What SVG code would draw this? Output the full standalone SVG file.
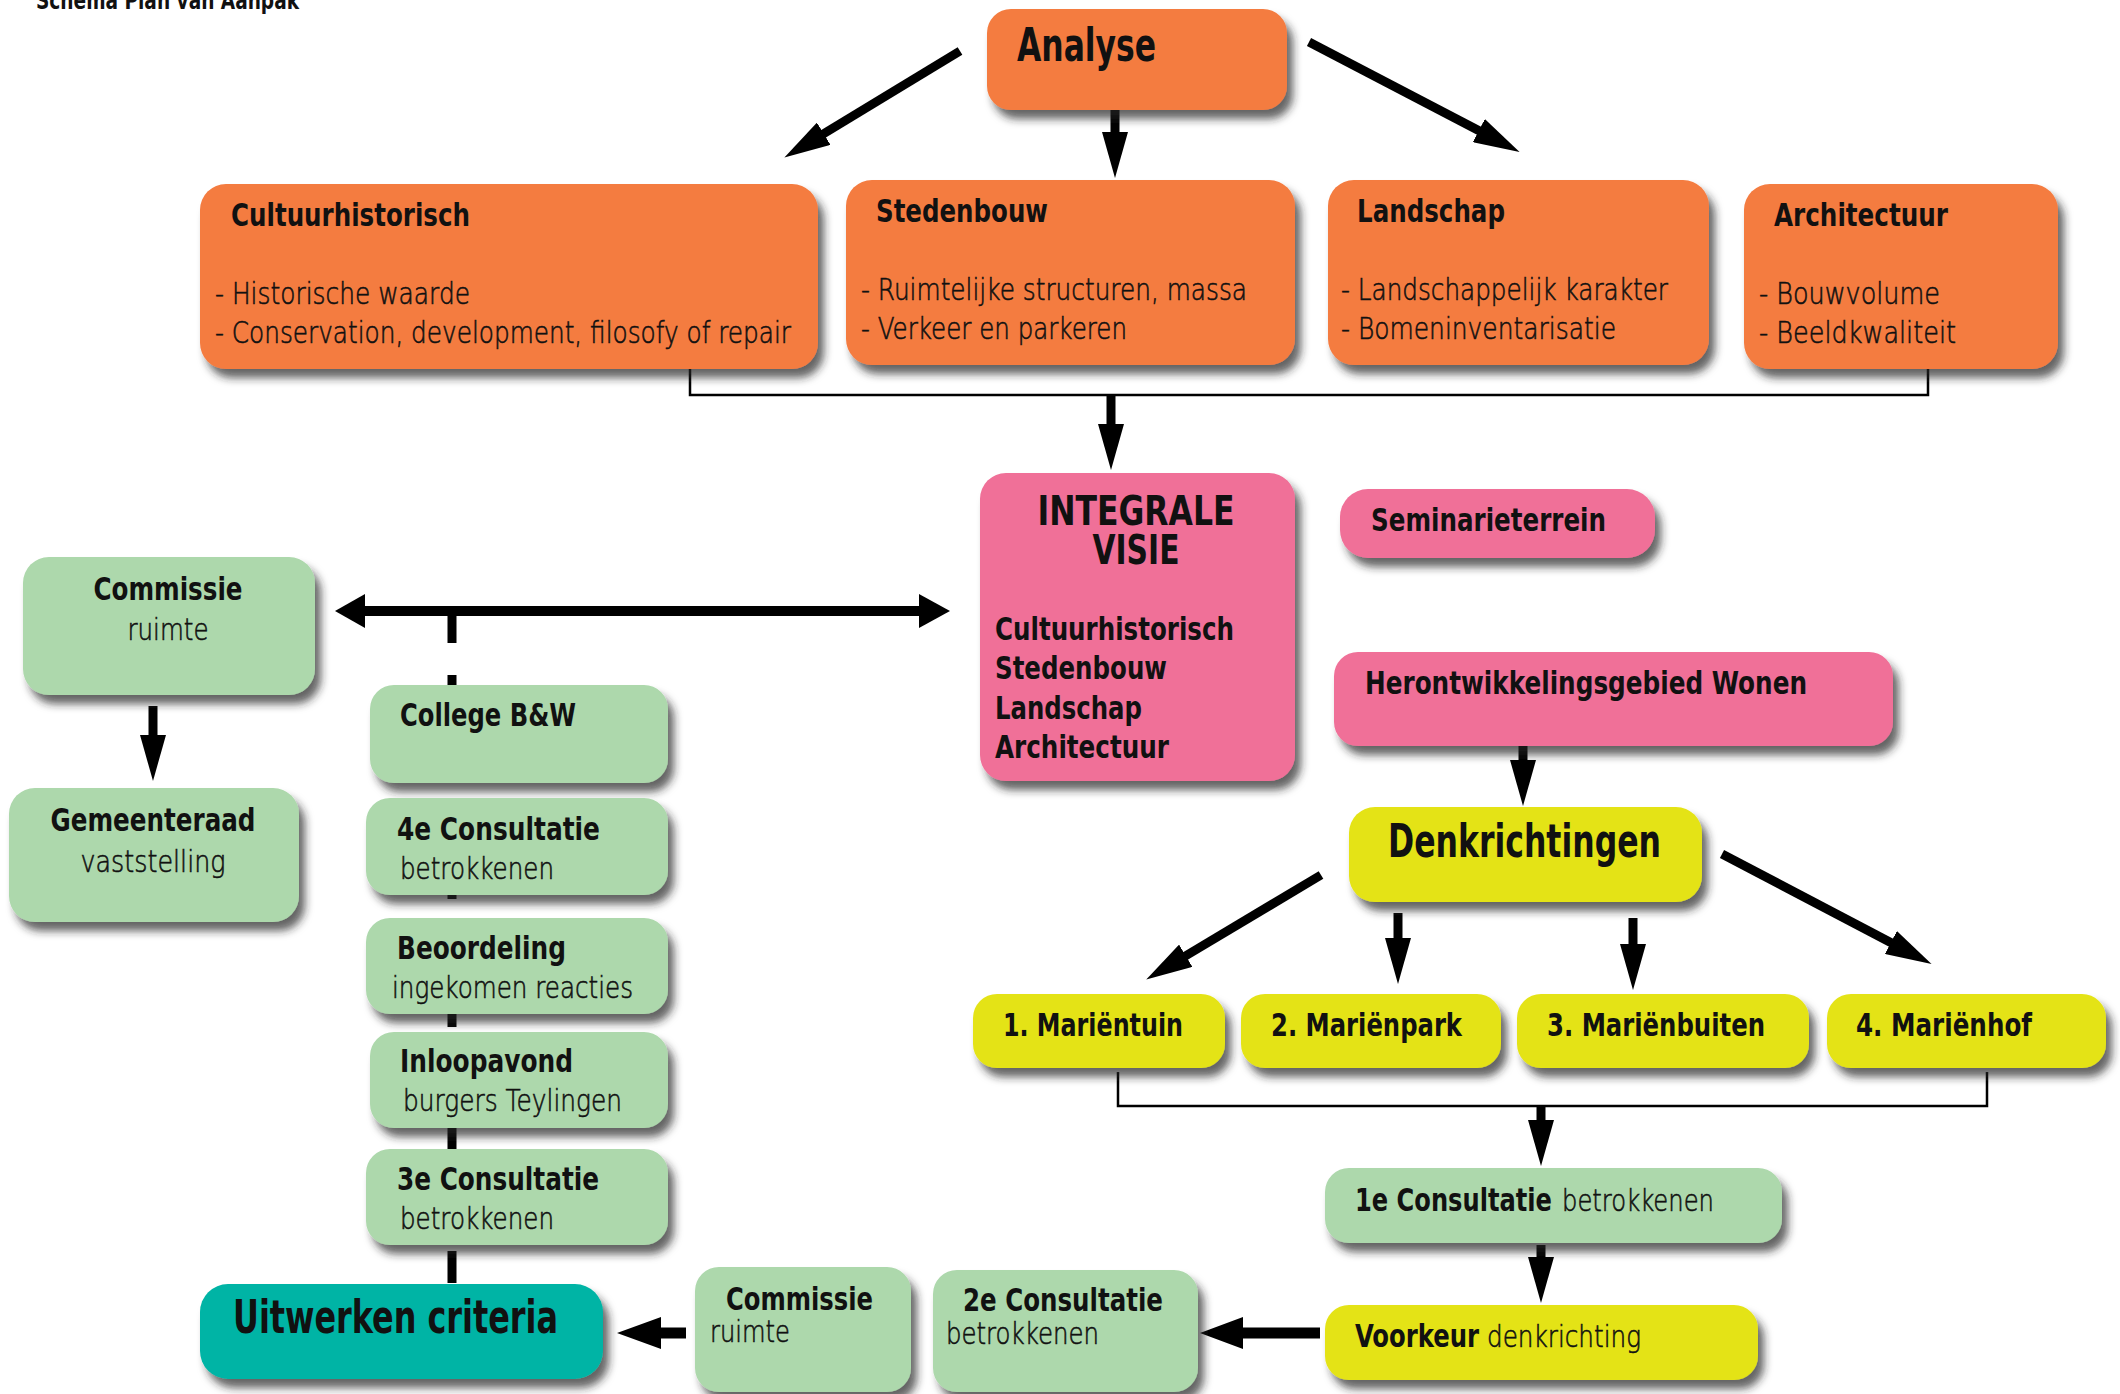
<svg xmlns="http://www.w3.org/2000/svg" width="2120" height="1394" viewBox="0 0 2120 1394">
<defs>
<filter id="sh" x="-10%" y="-10%" width="130%" height="140%">
<feDropShadow dx="6" dy="9" stdDeviation="4" flood-color="#222" flood-opacity="0.7"/>
</filter>
<marker id="ah" markerUnits="userSpaceOnUse" markerWidth="46" markerHeight="26" refX="16" refY="13" orient="auto">
<path d="M0,0 L46,13 L0,26 Z" fill="#000"/>
</marker>
<style>
.o{fill:#F47C40;filter:url(#sh)}
.p{fill:#F07098;filter:url(#sh)}
.g{fill:#ADD8AC;filter:url(#sh)}
.y{fill:#E4E316;filter:url(#sh)}
.t{fill:#00B4A5;filter:url(#sh)}
text{fill:#111}
.b{font-family:"DejaVu Sans",sans-serif;font-weight:bold;font-stretch:condensed;font-size:32px}
.l{font-family:"DejaVu Sans",sans-serif;font-weight:200;font-size:30px;stroke:#111;stroke-width:0.6}
.big{font-size:46px}
.c{text-anchor:middle}
.thin{fill:none;stroke:#000;stroke-width:2.5}
.arr{fill:none;stroke:#000;stroke-width:9;marker-end:url(#ah)}
</style>
</defs>
<rect width="2120" height="1394" fill="#fff"/>
<text class="b" x="36" y="9" textLength="263" lengthAdjust="spacingAndGlyphs" style="font-size:24px">Schema Plan van Aanpak</text>

<g id="connectors">
<line class="arr" x1="960" y1="51" x2="810" y2="142"/>
<line class="arr" x1="1115" y1="110" x2="1115" y2="148"/>
<line class="arr" x1="1309" y1="42" x2="1493" y2="138"/>
<path class="thin" d="M690,362 V395 H1928 V362"/>
<line class="arr" x1="1111" y1="395" x2="1111" y2="440"/>
<path d="M452,611 V1284" fill="none" stroke="#000" stroke-width="9" stroke-dasharray="32 32"/>
<path d="M362,611 H922" fill="none" stroke="#000" stroke-width="10"/>
<polygon points="335,611 365,594 365,628" fill="#000"/>
<polygon points="950,611 919,594 919,628" fill="#000"/>
<line class="arr" x1="153" y1="706" x2="153" y2="751"/>
<line class="arr" x1="1523" y1="746" x2="1523" y2="776"/>
<line class="arr" x1="1321" y1="875" x2="1172" y2="964"/>
<line class="arr" x1="1398" y1="913" x2="1398" y2="954"/>
<line class="arr" x1="1633" y1="918" x2="1633" y2="960"/>
<line class="arr" x1="1722" y1="854" x2="1905" y2="950"/>
<path class="thin" d="M1118,1072 V1106 H1987 V1072"/>
<line class="arr" x1="1541" y1="1106" x2="1541" y2="1136"/>
<line class="arr" x1="1541" y1="1245" x2="1541" y2="1273"/>
<path d="M1320,1333 H1240" fill="none" stroke="#000" stroke-width="11"/>
<polygon points="1200,1333 1243,1317 1243,1349" fill="#000"/>
<path d="M686,1333 H655" fill="none" stroke="#000" stroke-width="11"/>
<polygon points="617,1333 661,1317 661,1349" fill="#000"/>
</g>

<g id="analyse"><rect class="o" x="987" y="9" width="300" height="101" rx="24"/>
<text class="b big" x="1017" y="61" textLength="139" lengthAdjust="spacingAndGlyphs">Analyse</text></g>

<g id="cultuurhistorisch"><rect class="o" x="200" y="184" width="618" height="185" rx="26"/>
<text class="b" x="231" y="226" textLength="239" lengthAdjust="spacingAndGlyphs">Cultuurhistorisch</text>
<text class="l" x="215" y="304" textLength="255" lengthAdjust="spacingAndGlyphs">- Historische waarde</text>
<text class="l" x="215" y="343" textLength="576" lengthAdjust="spacingAndGlyphs">- Conservation, development, filosofy of repair</text></g>

<g id="stedenbouw"><rect class="o" x="846" y="180" width="449" height="185" rx="26"/>
<text class="b" x="876" y="222" textLength="172" lengthAdjust="spacingAndGlyphs">Stedenbouw</text>
<text class="l" x="861" y="300" textLength="386" lengthAdjust="spacingAndGlyphs">- Ruimtelijke structuren, massa</text>
<text class="l" x="861" y="339" textLength="266" lengthAdjust="spacingAndGlyphs">- Verkeer en parkeren</text></g>

<g id="landschap"><rect class="o" x="1328" y="180" width="381" height="185" rx="26"/>
<text class="b" x="1357" y="222" textLength="148" lengthAdjust="spacingAndGlyphs">Landschap</text>
<text class="l" x="1341" y="300" textLength="327" lengthAdjust="spacingAndGlyphs">- Landschappelijk karakter</text>
<text class="l" x="1341" y="339" textLength="275" lengthAdjust="spacingAndGlyphs">- Bomeninventarisatie</text></g>

<g id="architectuur"><rect class="o" x="1744" y="184" width="314" height="185" rx="26"/>
<text class="b" x="1774" y="226" textLength="174" lengthAdjust="spacingAndGlyphs">Architectuur</text>
<text class="l" x="1759" y="304" textLength="181" lengthAdjust="spacingAndGlyphs">- Bouwvolume</text>
<text class="l" x="1759" y="343" textLength="197" lengthAdjust="spacingAndGlyphs">- Beeldkwaliteit</text></g>

<g id="integrale-visie"><rect class="p" x="980" y="473" width="315" height="308" rx="26"/>
<text class="b c" x="1136" y="525" style="font-size:40px" textLength="197" lengthAdjust="spacingAndGlyphs">INTEGRALE</text>
<text class="b c" x="1136" y="564" style="font-size:40px" textLength="87" lengthAdjust="spacingAndGlyphs">VISIE</text>
<text class="b" x="995" y="640" textLength="239" lengthAdjust="spacingAndGlyphs">Cultuurhistorisch</text>
<text class="b" x="995" y="679" textLength="172" lengthAdjust="spacingAndGlyphs">Stedenbouw</text>
<text class="b" x="995" y="719" textLength="147" lengthAdjust="spacingAndGlyphs">Landschap</text>
<text class="b" x="995" y="758" textLength="174" lengthAdjust="spacingAndGlyphs">Architectuur</text></g>

<g id="seminarieterrein"><rect class="p" x="1340" y="489" width="315" height="69" rx="28"/>
<text class="b" x="1371" y="531" textLength="235" lengthAdjust="spacingAndGlyphs">Seminarieterrein</text></g>

<g id="herontwikkelingsgebied"><rect class="p" x="1334" y="652" width="559" height="94" rx="24"/>
<text class="b" x="1365" y="694" textLength="442" lengthAdjust="spacingAndGlyphs">Herontwikkelingsgebied Wonen</text></g>

<g id="denkrichtingen"><rect class="y" x="1349" y="807" width="353" height="95" rx="26"/>
<text class="b big" x="1388" y="857" textLength="273" lengthAdjust="spacingAndGlyphs">Denkrichtingen</text></g>

<g id="marientuin"><rect class="y" x="973" y="994" width="252" height="74" rx="24"/>
<text class="b" x="1003" y="1036" textLength="180" lengthAdjust="spacingAndGlyphs">1. Mariëntuin</text></g>
<g id="marienpark"><rect class="y" x="1241" y="994" width="260" height="74" rx="24"/>
<text class="b" x="1271" y="1036" textLength="191" lengthAdjust="spacingAndGlyphs">2. Mariënpark</text></g>
<g id="marienbuiten"><rect class="y" x="1517" y="994" width="292" height="74" rx="24"/>
<text class="b" x="1547" y="1036" textLength="218" lengthAdjust="spacingAndGlyphs">3. Mariënbuiten</text></g>
<g id="marienhof"><rect class="y" x="1827" y="994" width="279" height="74" rx="24"/>
<text class="b" x="1856" y="1036" textLength="176" lengthAdjust="spacingAndGlyphs">4. Mariënhof</text></g>

<g id="consultatie1"><rect class="g" x="1325" y="1168" width="457" height="75" rx="24"/>
<text class="b" x="1355" y="1211" textLength="197" lengthAdjust="spacingAndGlyphs">1e Consultatie</text>
<text class="l" x="1562" y="1211" textLength="152" lengthAdjust="spacingAndGlyphs">betrokkenen</text></g>

<g id="voorkeur"><rect class="y" x="1325" y="1305" width="433" height="75" rx="24"/>
<text class="b" x="1355" y="1347" textLength="124" lengthAdjust="spacingAndGlyphs">Voorkeur</text>
<text class="l" x="1487" y="1347" textLength="154" lengthAdjust="spacingAndGlyphs">denkrichting</text></g>

<g id="consultatie2"><rect class="g" x="933" y="1270" width="265" height="122" rx="24"/>
<text class="b" x="963" y="1311" textLength="200" lengthAdjust="spacingAndGlyphs">2e Consultatie</text>
<text class="l" x="946" y="1344" textLength="153" lengthAdjust="spacingAndGlyphs">betrokkenen</text></g>

<g id="commissie-onder"><rect class="g" x="695" y="1267" width="216" height="125" rx="24"/>
<text class="b" x="726" y="1310" textLength="147" lengthAdjust="spacingAndGlyphs">Commissie</text>
<text class="l" x="710" y="1342" textLength="80" lengthAdjust="spacingAndGlyphs">ruimte</text></g>

<g id="uitwerken"><rect class="t" x="200" y="1284" width="403" height="95" rx="28"/>
<text class="b big" x="233" y="1333" textLength="325" lengthAdjust="spacingAndGlyphs">Uitwerken criteria</text></g>

<g id="commissie-boven"><rect class="g" x="23" y="557" width="292" height="138" rx="26"/>
<text class="b c" x="168" y="600" textLength="149" lengthAdjust="spacingAndGlyphs">Commissie</text>
<text class="l c" x="168" y="640" textLength="81" lengthAdjust="spacingAndGlyphs">ruimte</text></g>

<g id="gemeenteraad"><rect class="g" x="9" y="788" width="290" height="134" rx="26"/>
<text class="b c" x="153" y="831" textLength="205" lengthAdjust="spacingAndGlyphs">Gemeenteraad</text>
<text class="l c" x="153" y="872" textLength="145" lengthAdjust="spacingAndGlyphs">vaststelling</text></g>

<g id="college"><rect class="g" x="370" y="685" width="298" height="98" rx="24"/>
<text class="b" x="400" y="726" textLength="176" lengthAdjust="spacingAndGlyphs">College B&amp;W</text></g>

<g id="consultatie4"><rect class="g" x="366" y="798" width="302" height="97" rx="24"/>
<text class="b" x="397" y="840" textLength="203" lengthAdjust="spacingAndGlyphs">4e Consultatie</text>
<text class="l" x="400" y="879" textLength="154" lengthAdjust="spacingAndGlyphs">betrokkenen</text></g>

<g id="beoordeling"><rect class="g" x="366" y="918" width="302" height="96" rx="24"/>
<text class="b" x="397" y="959" textLength="169" lengthAdjust="spacingAndGlyphs">Beoordeling</text>
<text class="l" x="392" y="998" textLength="241" lengthAdjust="spacingAndGlyphs">ingekomen reacties</text></g>

<g id="inloopavond"><rect class="g" x="370" y="1032" width="298" height="96" rx="24"/>
<text class="b" x="400" y="1072" textLength="173" lengthAdjust="spacingAndGlyphs">Inloopavond</text>
<text class="l" x="403" y="1111" textLength="219" lengthAdjust="spacingAndGlyphs">burgers Teylingen</text></g>

<g id="consultatie3"><rect class="g" x="366" y="1149" width="302" height="96" rx="24"/>
<text class="b" x="397" y="1190" textLength="202" lengthAdjust="spacingAndGlyphs">3e Consultatie</text>
<text class="l" x="400" y="1229" textLength="154" lengthAdjust="spacingAndGlyphs">betrokkenen</text></g>
</svg>
